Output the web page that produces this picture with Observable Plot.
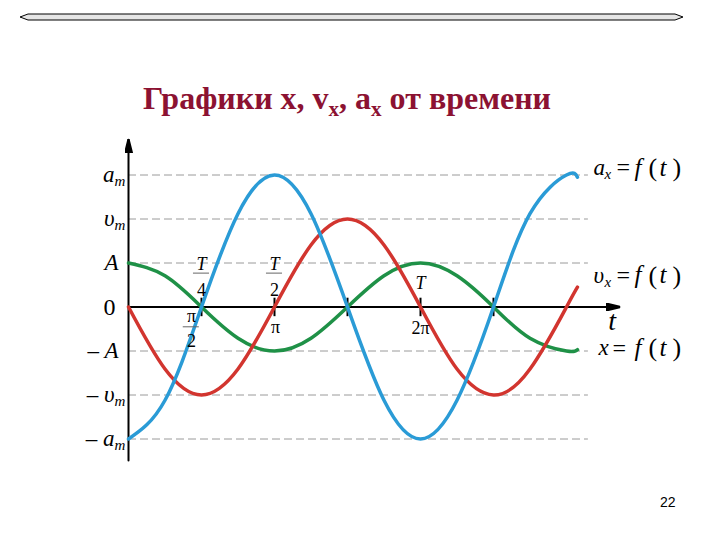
<!DOCTYPE html>
<html>
<head>
<meta charset="utf-8">
<script src="https://cdn.jsdelivr.net/npm/d3@7"></script>
<script src="https://cdn.jsdelivr.net/npm/@observablehq/plot@0.6"></script>
<style>
  html, body { margin: 0; padding: 0; background: #fff; }
  #page { position: relative; width: 720px; height: 540px; overflow: hidden; background: #fff; }
  #chart svg { position: absolute; left: 0; top: 0; }
  #topbar { position: absolute; left: 0; top: 0; }
  #title { position: absolute; left: 143px; top: 82px; font-family: "Liberation Serif", "Times New Roman", serif;
           font-weight: bold; font-size: 32px; color: #8c1232; white-space: nowrap; line-height: 1; }
  #title sub { font-size: 21px; vertical-align: -7px; line-height: 0; }
  #pagenum { position: absolute; left: 660px; top: 494px; font-family: "Liberation Sans", Arial, sans-serif;
             font-size: 14px; color: #000; }
</style>
</head>
<body>
<div id="page">
  <svg id="topbar" width="720" height="40">
    <polygon points="20,17 28,14 675,14 683,17 675,20 28,20" fill="#e6e6e6" stroke="#000" stroke-width="1"/>
  </svg>
  <div id="chart"></div>
  <div id="title">Графики x, v<sub>x</sub>, a<sub>x</sub> от времени</div>
  <div id="pagenum">22</div>
</div>
<script>
// time samples in units of T/8
const tSamples = [0, 1, 2, 3, 4, 5, 6, 7, 8, 9, 10, 11, 12, 12.3];
// x = f(t), in units of A (green)
const xValues  = [1, 0.71, 0, -0.71, -1, -0.71, 0, 0.71, 1, 0.71, 0, -0.71, -1, -0.97];
// v_x = f(t), v_m = 2 (red)
const vValues  = [0, -1.41, -2, -1.41, 0, 1.41, 2, 1.41, 0, -1.41, -2, -1.41, 0, 0.45];
// a_x = f(t), a_m = 3 (blue)
const aValues  = [-3, -2.12, 0, 2.12, 3, 2.12, 0, -2.12, -3, -2.12, 0, 2.12, 3, 2.95];

// y-axis levels and labels
const levels    = [3, 2, 1, 0, -1, -2, -3];
const levelMain = ["a", "υ", "A", "0", "– A", "– υ", "– a"];
const levelSub  = ["m", "m", "", "", "", "m", "m"];

// t-axis tick positions (units of T/8): T/4, T/2, 3T/4, T, 5T/4
const tTicks = [2, 4, 6, 8, 10];

// right-hand function labels: variable, subscript, level
const fnMain  = ["a", "υ", "x"];
const fnSub   = ["x", "x", ""];
const fnLevel = [3.1, 0.65, -1];

const colors = { x: "#1f9147", v: "#d2352f", a: "#2a9bd6" };

const rows = (vals, s) => tSamples.map((t, i) => ({ t, y: vals[i], s }));
const curves = [...rows(xValues, "x"), ...rows(vValues, "v"), ...rows(aValues, "a")];

function filledArrow(color, context) {
  const m = d3.create("svg:marker")
    .attr("viewBox", "0 -4 14 8")
    .attr("markerWidth", 14)
    .attr("markerHeight", 8)
    .attr("markerUnits", "userSpaceOnUse")
    .attr("refX", 13)
    .attr("refY", 0)
    .attr("orient", "auto");
  m.append("path").attr("d", "M0,-3.5L14,0L0,3.5Z").attr("fill", "#000");
  return m.node();
}

const serif = "'Liberation Serif', 'Times New Roman', serif";
const lab = 23;
const sub = 15;

const levelRows = levels.map((y, i) => ({ y, main: levelMain[i], sub: levelSub[i] }));
const dashed = levels.filter(d => d !== 0);
const fnRows = fnMain.map((m, i) => ({ main: m, sub: fnSub[i], y: fnLevel[i] }));

// pixel → t-units helper for label placement on the x scale (128px origin, 36.5px per T/8)
const px = p => (p - 128) / 36.5;

const txt = (data, o) => Plot.text(data, { fontFamily: serif, fontSize: lab, ...o });

const chart = Plot.plot({
  width: 720,
  height: 540,
  x: { domain: [0, 15], range: [128, 675.5], axis: null },
  y: { domain: [-4, 4], range: [482.5, 130.5], axis: null },
  marks: [
    // dashed reference levels
    Plot.ruleY(dashed, { x1: 0, x2: 12.6, stroke: "#9a9a9a", strokeWidth: 1, strokeDasharray: "8,4" }),
    // axes
    Plot.line([{ t: 0, y: -3.49 }, { t: 0, y: 3.8 }], { x: "t", y: "y", stroke: "#000", strokeWidth: 2, markerEnd: filledArrow }),
    Plot.line([{ t: 0, y: 0 }, { t: 13.45, y: 0 }], { x: "t", y: "y", stroke: "#000", strokeWidth: 2, markerEnd: filledArrow }),
    // ticks on t-axis
    Plot.ruleX(tTicks, { y1: -0.22, y2: 0.2, stroke: "#000", strokeWidth: 2 }),
    // curves
    Plot.line(curves, { x: "t", y: "y", z: "s", stroke: d => colors[d.s], strokeWidth: 3.5, curve: "natural", strokeLinecap: "round" }),
    // y labels
    txt(levelRows.filter(d => d.sub), { x: 0, y: "y", text: "main", textAnchor: "end", dx: -14, fontStyle: "italic" }),
    txt(levelRows.filter(d => d.sub), { x: 0, y: "y", text: "sub", textAnchor: "start", dx: -14, dy: 6, fontStyle: "italic", fontSize: sub }),
    txt(levelRows.filter(d => !d.sub && d.main !== "0"), { x: 0, y: "y", text: "main", textAnchor: "end", dx: -10, fontStyle: "italic" }),
    txt(levelRows.filter(d => d.main === "0"), { x: 0, y: "y", text: "main", textAnchor: "end", dx: -13, fontSize: 24 }),
    // T/4 and T/2 fractions above axis
    txt(tTicks.slice(0, 2), { x: d => d, y: 0, text: () => "T", dy: -43, fontStyle: "italic", fontSize: 18 }),
    txt(tTicks.slice(0, 2), { x: d => d, y: 0, text: d => d === 2 ? "4" : "2", dy: -17, fontSize: 18 }),
    Plot.ruleY(tTicks.slice(0, 2), { x1: d => d - 0.22, x2: d => d + 0.22, y: () => 0.77, stroke: "#666", strokeWidth: 1 }),
    // T above the axis at t = T
    txt([8], { x: d => d, y: 0, text: () => "T", dy: -24, fontStyle: "italic", fontSize: 18 }),
    // π/2, π, 2π below axis
    txt([2], { x: d => d, y: 0, text: () => "π", dx: -10, dy: 9, fontSize: 18 }),
    Plot.ruleY([2], { x1: d => d - 0.5, x2: d => d - 0.06, y: () => -0.45, stroke: "#666", strokeWidth: 1 }),
    txt([2], { x: d => d, y: 0, text: () => "2", dx: -10, dy: 34, fontSize: 18 }),
    txt([4], { x: d => d, y: 0, text: () => "π", dx: 1, dy: 20, fontSize: 18 }),
    txt([8], { x: d => d, y: 0, text: () => "2π", dx: 0, dy: 21, fontSize: 18 }),
    // t axis label
    txt([13.25], { x: d => d, y: 0, text: () => "t", dy: 14, fontStyle: "italic", fontSize: 28 }),
    // right-hand function labels
    txt(fnRows, { x: d => px(d.sub ? 593 : 598), y: "y", text: "main", textAnchor: "start", dy: -3, fontStyle: "italic" }),
    txt(fnRows.filter(d => d.sub), { x: () => px(604), y: "y", text: "sub", textAnchor: "start", dy: 4, fontStyle: "italic", fontSize: sub }),
    txt(fnRows, { x: d => px(d.sub ? 616 : 612), y: "y", text: () => "=", textAnchor: "start", dy: -3, fontSize: 24 }),
    txt(fnRows, { x: () => px(634), y: "y", text: () => "f", textAnchor: "start", dy: -3, fontStyle: "italic", fontSize: 25 }),
    txt(fnRows, { x: () => px(648), y: "y", text: () => "(", textAnchor: "start", dy: -3, fontSize: 26 }),
    txt(fnRows, { x: () => px(659), y: "y", text: () => "t", textAnchor: "start", dy: -3, fontStyle: "italic", fontSize: 25 }),
    txt(fnRows, { x: () => px(672), y: "y", text: () => ")", textAnchor: "start", dy: -3, fontSize: 26 })
  ]
});
document.getElementById("chart").appendChild(chart);
</script>
</body>
</html>
